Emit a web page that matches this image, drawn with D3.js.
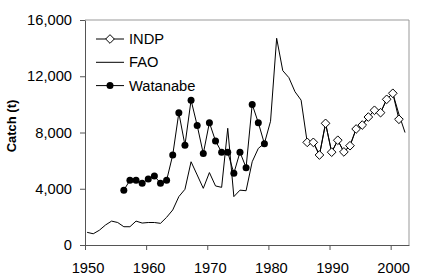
<!DOCTYPE html>
<html>
<head>
<meta charset="utf-8">
<script src="https://cdn.jsdelivr.net/npm/d3@7.9.0/dist/d3.min.js"></script>
<style>
  body { margin: 0; background: #fff; }
  svg { display: block; font-family: "Liberation Sans", Arial, sans-serif; }
</style>
</head>
<body>
<div id="chart"></div>
<script>
// data
const faoYears = d3.range(1950, 2003);
const faoCatch = [900, 800, 1050, 1420, 1700, 1600, 1300, 1300, 1700, 1560,
  1600, 1600, 1540, 1970, 2490, 3440, 3960, 5920, 4980, 4030,
  5150, 4200, 4100, 8300, 3440, 3900, 3860, 5920, 6870, 7230,
  8800, 14700, 12400, 11900, 10900, 10300, 7300, 7300, 6400, 8650,
  6600, 7450, 6620, 7060, 8250, 8530, 9100, 9580, 9410, 10360,
  10790, 9300, 8000];

const watYears = d3.range(1956, 1980);
const watCatch = [3900, 4600, 4600, 4400, 4700, 4900, 4400, 4600, 6400, 9400,
  7100, 10300, 8500, 6500, 8700, 7400, 6600, 6600, 5100, 6600,
  5500, 10000, 8700, 7200];

const indpYears = d3.range(1986, 2002);
const indpCatch = [7300, 7300, 6400, 8650, 6600, 7450, 6620, 7060, 8250, 8530,
  9100, 9580, 9410, 10360, 10790, 8940];

const xTicks = [1950, 1960, 1970, 1980, 1990, 2000];
const yTicks = [0, 4000, 8000, 12000, 16000];

const width = 426, height = 279;
const margin = { top: 20, right: 17, bottom: 34, left: 85 };

const svg = d3.select('#chart').append('svg')
  .attr('width', width)
  .attr('height', height);

const x = d3.scaleLinear()
  .domain([1950, 2003])
  .range([margin.left, width - margin.right]);
const y = d3.scaleLinear()
  .domain([0, 16000])
  .range([height - margin.bottom, margin.top]);

// points sit a little right of the year tick in the original
const px = yr => x(yr + 0.35);

// frame (top and right)
svg.append('path')
  .attr('d', `M${margin.left},${margin.top}H${width - margin.right}V${height - margin.bottom}`)
  .attr('fill', 'none')
  .attr('stroke', '#999')
  .attr('stroke-width', 1);

const xAxis = svg.append('g')
  .attr('transform', `translate(0,${height - margin.bottom})`)
  .call(d3.axisBottom(x).tickValues(xTicks).tickFormat(d3.format('d')).tickSize(5).tickSizeOuter(0));
const yAxis = svg.append('g')
  .attr('transform', `translate(${margin.left},0)`)
  .call(d3.axisLeft(y).tickValues(yTicks).tickFormat(d3.format(',')).tickSize(5).tickSizeOuter(0));

[xAxis, yAxis].forEach(g => {
  g.selectAll('path, line').attr('stroke', '#555');
  g.selectAll('text').attr('fill', '#000').style('font-size', '14.7px');
});
xAxis.selectAll('text').attr('y', 18).attr('dx', 2.5);
yAxis.selectAll('text').attr('x', -13);

svg.append('text')
  .attr('transform', 'translate(16,126) rotate(-90)')
  .attr('text-anchor', 'middle')
  .style('font-size', '13px')
  .style('font-weight', 'bold')
  .text('Catch (t)');

const line = d3.line().x(d => px(d[0])).y(d => y(d[1]));

const fao = d3.zip(faoYears, faoCatch);
const wat = d3.zip(watYears, watCatch);
const indp = d3.zip(indpYears, indpCatch);

svg.append('path').datum(fao)
  .attr('d', line).attr('fill', 'none').attr('stroke', '#000').attr('stroke-width', 1);

svg.append('path').datum(wat)
  .attr('d', line).attr('fill', 'none').attr('stroke', '#000').attr('stroke-width', 1);
svg.append('g').selectAll('circle').data(wat).join('circle')
  .attr('cx', d => px(d[0])).attr('cy', d => y(d[1])).attr('r', 3.5)
  .attr('fill', '#000');

svg.append('path').datum(indp)
  .attr('d', line).attr('fill', 'none').attr('stroke', '#000').attr('stroke-width', 1);
const diamond = d3.symbol().type(d3.symbolDiamond2).size(48);
svg.append('g').selectAll('path').data(indp).join('path')
  .attr('transform', d => `translate(${px(d[0])},${y(d[1])})`)
  .attr('d', diamond)
  .attr('fill', '#fff').attr('stroke', '#000').attr('stroke-width', 1);

// legend
const legendItems = [
  { label: 'INDP', mark: 'diamond' },
  { label: 'FAO', mark: 'none' },
  { label: 'Watanabe', mark: 'circle' }
];
const legend = svg.append('g').attr('transform', 'translate(96,39)');
legendItems.forEach((item, i) => {
  const g = legend.append('g').attr('transform', `translate(0,${i * 23.3})`);
  g.append('line').attr('x1', 0).attr('x2', 28).attr('stroke', '#000');
  if (item.mark === 'diamond') {
    g.append('path').attr('transform', 'translate(14,0)').attr('d', diamond)
      .attr('fill', '#fff').attr('stroke', '#000');
  } else if (item.mark === 'circle') {
    g.append('circle').attr('cx', 14).attr('r', 3.5).attr('fill', '#000');
  }
  g.append('text').attr('x', 33).attr('dy', '0.35em')
    .style('font-size', '14.7px').text(item.label);
});
</script>
</body>
</html>
